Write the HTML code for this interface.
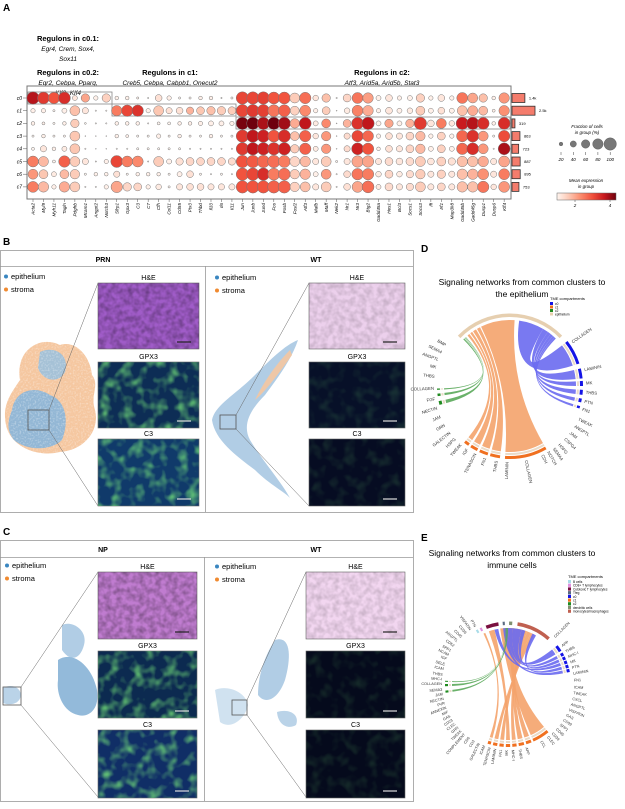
<!DOCTYPE html>
<html><head><meta charset="utf-8">
<style>
html,body{margin:0;padding:0;background:#fff;}
body{width:625px;height:804px;overflow:hidden;font-family:"Liberation Sans",sans-serif;}
svg text{font-family:"Liberation Sans",sans-serif;}
</style></head>
<body>
<svg id="fig" width="625" height="804" viewBox="0 0 625 804" xmlns="http://www.w3.org/2000/svg">
<defs>
  <filter id="tex" x="0" y="0" width="100%" height="100%">
    <feTurbulence type="fractalNoise" baseFrequency="0.18" numOctaves="2" seed="3"/>
    <feColorMatrix type="matrix" values="0 0 0 0 0  0 0 0 0 0  0 0 0 0 0  0 0 0 -1.6 1.1"/>
  </filter>
  <filter id="texg" x="0" y="0" width="100%" height="100%">
    <feTurbulence type="fractalNoise" baseFrequency="0.09" numOctaves="2" seed="7"/>
    <feColorMatrix type="matrix" values="0 0 0 0 0.2  0 0 0 0 0.85  0 0 0 0 0.2  0 0 0 2.2 -1.0"/>
  </filter>
  <filter id="dots" x="0" y="0" width="100%" height="100%">
    <feTurbulence type="fractalNoise" baseFrequency="0.6" numOctaves="1" seed="5"/>
    <feColorMatrix type="matrix" values="0 0 0 0 1  0 0 0 0 1  0 0 0 0 1  0 0 0 -3 1.6"/>
  </filter>
</defs>

<text x="3" y="11" font-size="10" font-weight="bold">A</text>
<g font-size="7.5" text-anchor="middle">
  <text x="68" y="41" font-weight="bold">Regulons in c0.1:</text>
  <text x="68" y="51" font-style="italic" font-size="6.5">Egr4, Crem, Sox4,</text>
  <text x="68" y="61" font-style="italic" font-size="6.5">Sox11</text>
  <text x="68" y="75" font-weight="bold">Regulons in c0.2:</text>
  <text x="68" y="85" font-style="italic" font-size="6.5">Egr2, Cebpa, Pparg,</text>
  <text x="68" y="95" font-style="italic" font-size="6.5">Klf2, Klf4</text>
  <text x="170" y="75" font-weight="bold">Regulons in c1:</text>
  <text x="170" y="85" font-style="italic" font-size="6.5">Creb5, Cebpa, Cabpb1, Onecut2</text>
  <text x="382" y="75" font-weight="bold">Regulons in c2:</text>
  <text x="382" y="85" font-style="italic" font-size="6.5">Atf3, Arid5a, Arid5b, Stat3</text>
</g>
<g id="dotplot"></g>

<text x="3" y="245" font-size="10" font-weight="bold">B</text>
<g>
  <rect x="0.5" y="250.5" width="413" height="262" fill="none" stroke="#999" stroke-width="0.8"/>
  <line x1="0" y1="266.5" x2="413" y2="266.5" stroke="#999" stroke-width="0.8"/>
  <line x1="205.5" y1="266" x2="205.5" y2="512" stroke="#999" stroke-width="0.8"/>
  <text x="103" y="262" font-size="7" font-weight="bold" text-anchor="middle">PRN</text>
  <text x="316" y="262" font-size="7" font-weight="bold" text-anchor="middle">WT</text>
</g>
<g id="panelB"></g>

<text x="3" y="535" font-size="10" font-weight="bold">C</text>
<g>
  <rect x="0.5" y="540.5" width="413" height="261" fill="none" stroke="#999" stroke-width="0.8"/>
  <line x1="0" y1="557.5" x2="413" y2="557.5" stroke="#999" stroke-width="0.8"/>
  <line x1="204.5" y1="557" x2="204.5" y2="801" stroke="#999" stroke-width="0.8"/>
  <text x="103" y="552" font-size="7" font-weight="bold" text-anchor="middle">NP</text>
  <text x="316" y="552" font-size="7" font-weight="bold" text-anchor="middle">WT</text>
</g>
<g id="panelC"></g>

<text x="421" y="252" font-size="10" font-weight="bold">D</text>
<g font-size="8.5" text-anchor="middle">
  <text x="522" y="285">Signaling networks from common clusters to</text>
  <text x="522" y="297">the epithelium</text>
</g>
<g id="chordD"></g>

<text x="421" y="541" font-size="10" font-weight="bold">E</text>
<g font-size="8.5" text-anchor="middle">
  <text x="512" y="556">Signaling networks from common clusters to</text>
  <text x="512" y="568">immune cells</text>
</g>
<g id="chordE"></g>
</svg>

<script>
const NS = "http://www.w3.org/2000/svg";
const genes = ["Acta2","Myl9","Myh11","Tagln","Pdgfrb","Mcam1","Angpt2","Notch3","Sfrp1","Gpx3","C3","C7","Cfh","Col11","Cd55","Ptx3","Thbd","Il33","Il6","Il11","Jun","Junb","Jund","Fos","Fosb","Fosl2","Atf3","Mafb","Maff","Nek2","Nr1","Nr3","Btg2","Gadd45a","Hes1","Bcl3","Socs1","Socs3","Ifi","Irf1","Map3k8","Gadd45b","Gadd45g","Dusp1","Dusp6","Klf4"];
const clusters = ["c0","c1","c2","c3","c4","c5","c6","c7"];
const cellCounts = [1400,2500,319,863,723,887,895,753];
const countLabels = ["1.4k","2.5k","319","863","723","887","895","753"];
const frac_c0 = [100,95,90,95,30,60,25,60,20,20,10,5,45,25,10,10,20,20,5,10,100,100,100,95,95,75,90,35,60,5,55,85,80,30,45,25,30,60,25,45,25,85,75,60,20,80];
const expr_c0 = [3.9,3.2,2.8,3.4,0.5,1.6,0.3,0.9,0.3,0.3,0.3,0.2,0.6,0.3,0.2,0.2,0.3,0.3,0.2,0.2,3.0,3.0,3.1,2.8,2.8,1.0,2.4,0.5,1.2,0.2,0.8,2.3,1.7,0.3,0.5,0.3,0.3,0.9,0.3,0.5,0.3,2.3,1.6,1.2,0.3,1.8];
const frac_c1 = [25,25,10,30,75,40,5,5,80,90,90,25,75,40,45,50,55,60,60,55,100,100,100,95,95,65,85,25,55,3,35,85,80,25,45,30,35,65,30,45,30,75,75,65,15,80];
const expr_c1 = [0.3,0.3,0.2,0.3,1.2,0.5,0.2,0.2,2.2,3.0,3.3,0.3,1.1,0.6,0.6,1.4,1.1,1.2,1.0,1.0,3.0,3.2,3.1,2.3,2.6,0.9,2.0,0.3,1.0,0.2,0.4,2.1,1.5,0.3,0.5,0.3,0.4,1.0,0.3,0.6,0.3,1.2,1.5,1.3,0.3,1.9];
const frac_c2 = [20,15,10,20,60,8,5,5,20,20,20,5,15,15,20,20,25,30,30,25,100,100,100,100,100,70,95,30,65,3,55,95,100,30,60,30,60,100,45,75,35,100,100,95,20,95];
const expr_c2 = [0.3,0.3,0.2,0.3,1.0,0.2,0.2,0.2,0.3,0.3,0.3,0.2,0.2,0.2,0.3,0.3,0.3,0.3,0.3,0.3,4.5,4.7,4.0,4.6,4.1,1.5,3.8,0.4,2.0,0.2,1.4,3.3,3.8,0.3,1.6,0.3,1.4,3.2,0.5,2.2,0.5,3.7,3.9,3.4,0.3,3.4];
const frac_c3 = [10,20,10,10,75,3,3,3,20,15,10,10,25,10,20,10,10,20,10,10,100,100,100,95,100,65,90,35,70,3,40,90,85,25,45,40,55,70,25,55,25,90,95,75,10,90];
const expr_c3 = [0.2,0.3,0.2,0.2,1.1,0.2,0.2,0.2,0.3,0.3,0.2,0.2,0.3,0.2,0.3,0.2,0.2,0.3,0.2,0.2,3.2,3.8,3.6,2.8,3.4,1.2,2.6,0.5,1.8,0.2,0.7,3.0,2.5,0.3,0.6,0.5,0.8,1.3,0.3,0.9,0.3,2.5,3.3,1.8,0.2,2.9];
const frac_c4 = [15,40,20,30,75,5,3,3,5,5,10,10,10,10,10,5,5,5,5,5,100,100,100,100,100,60,90,30,70,3,40,95,90,20,45,40,55,70,30,55,30,90,95,75,5,95];
const expr_c4 = [0.2,0.5,0.3,0.4,1.1,0.2,0.2,0.2,0.2,0.2,0.2,0.2,0.2,0.2,0.2,0.2,0.2,0.2,0.2,0.2,3.2,3.8,3.6,3.3,3.6,1.0,2.6,0.4,1.8,0.2,0.7,3.6,2.8,0.3,0.6,0.5,0.8,1.3,0.3,0.9,0.3,2.5,3.4,1.8,0.2,4.0];
const frac_c5 = [85,75,15,90,75,40,5,25,95,85,85,5,75,30,50,55,55,55,55,50,100,100,100,100,95,75,80,40,75,10,40,90,90,40,55,45,55,75,45,65,50,80,80,80,40,85];
const expr_c5 = [2.2,1.3,0.2,2.6,1.0,0.5,0.2,0.3,3.0,2.2,2.0,0.2,1.0,0.3,0.6,0.8,0.8,0.8,0.8,0.7,2.8,2.7,2.5,2.4,2.2,0.8,1.3,0.5,1.0,0.2,0.5,1.6,1.6,0.5,0.7,0.5,0.7,1.0,0.5,0.9,0.6,1.2,1.2,1.5,0.5,1.6];
const frac_c6 = [75,65,30,65,70,10,20,20,40,10,20,20,20,10,30,45,10,5,10,5,100,100,100,95,95,70,80,30,75,5,45,90,90,35,55,35,50,70,40,60,40,80,80,85,40,85];
const expr_c6 = [1.8,1.1,0.4,1.3,1.0,0.2,0.3,0.3,0.6,0.2,0.3,0.3,0.3,0.2,0.3,0.6,0.2,0.2,0.2,0.2,2.8,3.0,3.4,2.2,2.4,1.0,1.4,0.3,1.8,0.2,0.7,2.3,2.2,0.4,0.8,0.4,0.7,1.0,0.5,0.9,0.5,1.2,1.4,1.9,0.5,2.2];
const frac_c7 = [85,80,25,80,75,5,5,25,90,60,55,25,35,10,40,45,45,40,40,40,100,100,100,100,100,70,75,40,75,5,45,85,95,30,55,40,50,75,40,55,40,80,80,90,35,85];
const expr_c7 = [2.2,1.3,0.3,1.5,1.0,0.2,0.2,0.3,1.6,0.8,0.8,0.3,0.4,0.2,0.5,0.6,0.6,0.5,0.5,0.5,2.8,2.8,2.8,2.6,2.6,0.9,1.2,0.5,1.0,0.2,0.6,1.6,2.4,0.4,0.7,0.5,0.7,1.0,0.5,0.8,0.5,1.2,1.2,2.3,0.5,1.8];
const fractions = [frac_c0,frac_c1,frac_c2,frac_c3,frac_c4,frac_c5,frac_c6,frac_c7];
const expressions = [expr_c0,expr_c1,expr_c2,expr_c3,expr_c4,expr_c5,expr_c6,expr_c7];
const sizeLegendValues = [20,40,60,80,100];
const colorTicks = [2,4];

function mk(tag, attrs, parent){ const e=document.createElementNS(NS,tag); for(const k in attrs) e.setAttribute(k,attrs[k]); if(parent) parent.appendChild(e); return e; }

const xCol = i => 33 + i*10.47;
const yRow = j => 98 + j*12.7;
const rSize = f => 6.2*Math.pow(f/100,0.75);
const barLen = n => n*0.0092;
const reds = [[255,245,240],[252,200,180],[251,140,110],[240,80,60],[200,25,30],[110,0,13]];
function redColor(v){
  let t=(v-0.2)/4.4; t=Math.max(0,Math.min(1,t));
  const p=t*(reds.length-1); const i=Math.min(reds.length-2,Math.floor(p)); const f=p-i;
  const c=reds[i].map((a,k)=>Math.round(a+(reds[i+1][k]-a)*f));
  return `rgb(${c[0]},${c[1]},${c[2]})`;
}

const dp = document.getElementById('dotplot');
mk('rect',{x:27,y:86,width:484,height:113,fill:'none',stroke:'#777','stroke-width':1},dp);
mk('rect',{x:28,y:92,width:84,height:12,fill:'none',stroke:'#888','stroke-width':0.8},dp);
mk('rect',{x:112,y:104,width:124,height:12,fill:'none',stroke:'#888','stroke-width':0.8},dp);
mk('rect',{x:236,y:117,width:274,height:12,fill:'none',stroke:'#888','stroke-width':0.8},dp);
clusters.forEach((c,j)=>{
  const t=mk('text',{x:22,y:yRow(j)+1.8,'font-size':5,'font-style':'italic','text-anchor':'end'},dp);
  t.textContent=c;
  
  
  mk('line',{x1:23,y1:yRow(j),x2:27,y2:yRow(j),stroke:'#555','stroke-width':0.5},dp);
  genes.forEach((g,i)=>{
    const f=fractions[j][i], e=expressions[j][i];
    const d=mk('circle',{cx:xCol(i),cy:yRow(j),r:rSize(f),fill:redColor(e),stroke:'#777','stroke-width':0.5},dp);
    
    
  });
  const b=mk('rect',{x:512,y:yRow(j)-4.5,width:barLen(cellCounts[j]),height:9,fill:'#f47c6c',stroke:'#333','stroke-width':0.8},dp);
  
  
  const bl=mk('text',{x:512+barLen(cellCounts[j])+4,y:yRow(j)+1.5,'font-size':4},dp);
  bl.textContent=countLabels[j];
  
  
});
genes.forEach((g,i)=>{
  mk('line',{x1:xCol(i),y1:199,x2:xCol(i),y2:202,stroke:'#555','stroke-width':0.5},dp);
  const t=mk('text',{x:0,y:0,'font-size':4.6,'font-style':'italic','text-anchor':'end',transform:`translate(${xCol(i)+1.6},203) rotate(-90)`},dp);
  t.textContent=g;
  
  
});
const lg=mk('g',{},dp);


let tl=mk('text',{x:587,y:128,'font-size':4.5,'font-style':'italic','text-anchor':'middle'},lg); tl.textContent='Fraction of cells';
tl=mk('text',{x:587,y:134,'font-size':4.5,'font-style':'italic','text-anchor':'middle'},lg); tl.textContent='in group (%)';
sizeLegendValues.forEach((v,k)=>{
  const x=561+k*12.3;
  mk('circle',{cx:x,cy:144,r:rSize(v),fill:'#777',stroke:'#555','stroke-width':0.4},lg);
  mk('line',{x1:x,y1:152,x2:x,y2:155,stroke:'#444','stroke-width':0.5},lg);
  const t=mk('text',{x:x,y:161,'font-size':4.5,'font-style':'italic','text-anchor':'middle'},lg); t.textContent=v;
});
tl=mk('text',{x:586,y:182,'font-size':4.5,'font-style':'italic','text-anchor':'middle'},lg); tl.textContent='Mean expression';
tl=mk('text',{x:586,y:188,'font-size':4.5,'font-style':'italic','text-anchor':'middle'},lg); tl.textContent='in group';
const defs=document.querySelector('defs');
const grad=mk('linearGradient',{id:'cbar',x1:0,y1:0,x2:1,y2:0},defs);
for(let k=0;k<=10;k++){ mk('stop',{offset:k/10,'stop-color':redColor(0.2+k*0.44)},grad); }
const cb=mk('rect',{x:557,y:193,width:59,height:7,fill:'url(#cbar)',stroke:'#666','stroke-width':0.5},lg);


colorTicks.forEach(v=>{
  const x=540+v*17.5;
  mk('line',{x1:x,y1:200,x2:x,y2:202,stroke:'#444','stroke-width':0.5},lg);
  const t=mk('text',{x:x,y:207,'font-size':4.5,'font-style':'italic','text-anchor':'middle'},lg); t.textContent=v;
});

function legendEpi(g,x,y){
  mk('circle',{cx:x,cy:y-2.5,r:2,fill:'#3a86c0'},g);
  let t=mk('text',{x:x+5,y:y,'font-size':7.5},g); t.textContent='epithelium';
  mk('circle',{cx:x,cy:y+10.5,r:2,fill:'#f08a30'},g);
  t=mk('text',{x:x+5,y:y+13,'font-size':7.5},g); t.textContent='stroma';
}
function micro(g,x,y,w,h,base,kind,name,label){
  const t=mk('text',{x:x+w/2,y:y-3,'font-size':7,'text-anchor':'middle'},g); t.textContent=label;
  const r=mk('rect',{x:x,y:y,width:w,height:h,fill:base,stroke:'#666','stroke-width':0.6},g);
  
  
  if(kind==='he'){ mk('rect',{x:x,y:y,width:w,height:h,filter:'url(#tex)',opacity:0.35},g); }
  else if(kind==='he-light'){ mk('rect',{x:x,y:y,width:w,height:h,filter:'url(#tex)',opacity:0.18},g); }
  else if(kind==='green'){ mk('rect',{x:x,y:y,width:w,height:h,filter:'url(#texg)',opacity:0.8},g); }
  else if(kind==='green-weak'){ mk('rect',{x:x,y:y,width:w,height:h,filter:'url(#texg)',opacity:0.15},g); }
  mk('line',{x1:x+w-22,y1:y+h-7,x2:x+w-8,y2:y+h-7,stroke:kind.startsWith('he')?'#222':'#ddd','stroke-width':1.2},g);
}
function zoomLines(g,sq,ix,iy0,iy1){
  mk('rect',{x:sq[0],y:sq[1],width:sq[2],height:sq[3],fill:'none',stroke:'#555','stroke-width':0.8},g);
  mk('line',{x1:sq[0]+sq[2],y1:sq[1],x2:ix,y2:iy0,stroke:'#666','stroke-width':0.5},g);
  mk('line',{x1:sq[0]+sq[2],y1:sq[1]+sq[3],x2:ix,y2:iy1,stroke:'#666','stroke-width':0.5},g);
}
function blob(g,d,fill,op){ mk('path',{d:d,fill:fill,opacity:op},g); }

const gB=document.getElementById('panelB');
legendEpi(gB,6,279); legendEpi(gB,217,280);
blob(gB,'M20,380 C15,350 40,335 60,345 C75,340 90,355 92,375 C100,385 90,395 95,410 C100,430 85,450 60,452 C35,458 10,445 6,425 C2,405 10,395 20,380Z','#f5c7a0',1);
blob(gB,'M12,410 C15,390 35,385 50,395 C65,400 70,420 62,440 C50,452 25,450 14,440 C6,430 8,420 12,410Z','#8db6d8',0.95);
blob(gB,'M40,352 C55,345 70,355 65,372 C58,385 42,380 38,368Z','#9cc0dc',0.9);
mk('rect',{x:4,y:340,width:95,height:116,filter:'url(#dots)',opacity:0.35},gB);
zoomLines(gB,[28,410,21,20],98,283,506);
micro(gB,98,283,101,66,'#a05cc8','he','he-image-prn','H&E');
micro(gB,98,362,101,66,'#0d2d55','green','gpx3-image-prn','GPX3');
micro(gB,98,439,101,67,'#103a6a','green','c3-image-prn','C3');
blob(gB,'M298,340 C285,345 270,360 255,375 C235,395 215,405 212,420 C215,440 235,455 255,470 C270,485 285,492 290,498 C280,480 262,460 250,440 C242,425 250,410 265,395 C280,375 292,358 298,340Z','#a9c8e2',0.9);
blob(gB,'M290,350 C275,365 262,385 255,400 C262,395 278,375 292,355Z','#f5c7a0',0.9);
zoomLines(gB,[220,415,16,14],309,283,506);
micro(gB,309,283,96,66,'#ecd0ec','he-light','he-image-wt-b','H&E');
micro(gB,309,362,96,66,'#071028','green-weak','gpx3-image-wt-b','GPX3');
micro(gB,309,439,96,67,'#060c22','green-weak','c3-image-wt-b','C3');

const gC=document.getElementById('panelC');
legendEpi(gC,7,568); legendEpi(gC,217,569);
blob(gC,'M62,625 C72,620 88,630 84,645 C80,660 70,662 62,650Z','#a9c8e2',0.9);
blob(gC,'M58,660 C72,650 92,665 97,690 C100,710 88,718 78,715 C64,712 56,695 58,680Z','#8db6d8',0.95);
blob(gC,'M3,688 C10,684 20,686 21,695 C20,704 10,706 3,703Z','#a9c8e2',0.8);
zoomLines(gC,[3,687,18,18],98,572,797);
micro(gC,98,572,99,67,'#c07cd0','he','he-image-np','H&E');
micro(gC,98,651,99,67,'#0c2a50','green','gpx3-image-np','GPX3');
micro(gC,98,730,99,68,'#102e66','green','c3-image-np','C3');
blob(gC,'M275,640 C290,635 292,655 285,680 C278,700 265,705 258,695 C258,675 265,655 275,640Z','#a9c8e2',0.9);
blob(gC,'M215,690 C225,685 245,690 248,705 C245,720 230,730 220,722Z','#c4dbec',0.8);
blob(gC,'M277,712 C290,708 300,715 296,725 C288,730 278,725 277,712Z','#a9c8e2',0.8);
zoomLines(gC,[232,700,15,15],306,572,797);
micro(gC,306,572,99,67,'#f2d6f0','he-light','he-image-wt-c','H&E');
micro(gC,306,651,99,67,'#050a1c','green-weak','gpx3-image-wt-c','GPX3');
micro(gC,306,730,99,68,'#050a1c','green-weak','c3-image-wt-c','C3');

function P(cx,cy,r,a){ const t=a*Math.PI/180; return [cx+r*Math.sin(t), cy-r*Math.cos(t)]; }
function arcPath(cx,cy,r1,r2,a0,a1){
  const p0=P(cx,cy,r2,a0),p1=P(cx,cy,r2,a1),p2=P(cx,cy,r1,a1),p3=P(cx,cy,r1,a0);
  const lg=(a1-a0)>180?1:0;
  return `M${p0}A${r2},${r2} 0 ${lg} 1 ${p1}L${p2}A${r1},${r1} 0 ${lg} 0 ${p3}Z`;
}
function ribbon(cx,cy,r,s0,s1,t0,t1){
  const a=P(cx,cy,r,s0),b=P(cx,cy,r,s1),c=P(cx,cy,r,t0),d=P(cx,cy,r,t1);
  return `M${a}A${r},${r} 0 0 1 ${b}Q${cx},${cy} ${c}A${r},${r} 0 0 1 ${d}Q${cx},${cy} ${a}Z`;
}
function label(g,cx,cy,r,a,txt,fs){
  const p=P(cx,cy,r,a); const rot=a-90; const right=(a%360+360)%360<180;
  const t=mk('text',{x:p[0],y:p[1],'font-size':fs,'text-anchor':right?'start':'end','dominant-baseline':'middle',transform:`rotate(${right?rot:rot+180} ${p[0]} ${p[1]})`,fill:'#333'},g);
  t.textContent=txt;
}
const colMap={c0:'#1414e6',c1:'#f07020',c2:'#1f8a1f',epi:'#e8d0b0'};
const ribbonColor={c0:'#6a6af0',c1:'#f4a36c',c2:'#5aa85a'};

const dSrcNames=["COLLAGEN","LAMININ","THBS","FN1","TENASCIN","COLLAGEN","LAMININ","MK","THBS","PTN","FN1","COLLAGEN","THBS","MK"];
const dSrcGroup=["c1","c1","c1","c1","c1","c0","c0","c0","c0","c0","c0","c2","c2","c2"];
const dSrcStart=[150,188,198,207,215,52,76,86,93,100,106,255,262,267];
const dSrcEnd=[184,196,205,213,219,72,84,90,97,103,108,258,264,268];
const dTgtStart=[-26,-30,-34,-37,-40,8,30,35,38,40.5,42.5,-45,-43.5,-42.5];
const dTgtEnd=[4,-27,-31,-35,-38,30,35,38,40.5,42.5,44,-44,-43,-42];
const dExtraLeft=["BMP","SEMA4","ANGPTL","MK","THBS","COLLAGEN","FGF","NECTIN","JAM","GRN","GALECTIN","HSPG","TWEAK","IGF","TENASCIN","FN1","THBS","LAMININ","COLLAGEN"];
const dExtraLeftAng=[302,296,290,284,277,268,260,253,246,239,232,226,220,214,207,199,190,182,168];
const dRightLabels=["COLLAGEN","LAMININ","MK","THBS","PTN","FN1","TWEAK","ANGPTL","JAM","CSPG4","HSPG","SEMA4","NOTCH","CDH"];
const dRightAng=[55,78,88,95,102,108,116,122,128,134,140,145,150,155];

function drawChord(id,cx,cy,r,srcNames,srcGroup,s0,s1,t0,t1,topArcs,lblL,angL,lblR,angR,fs){
  const g=document.getElementById(id);
  srcNames.forEach((n,i)=>{
    const rb=mk('path',{d:ribbon(cx,cy,r,s0[i],s1[i],t0[i],t1[i]),fill:ribbonColor[srcGroup[i]],opacity:0.9},g);
    
    
    mk('path',{d:arcPath(cx,cy,r+1,r+3,s0[i],s1[i]),fill:'#eadbc8'},g);
    mk('path',{d:arcPath(cx,cy,r+4,r+7,s0[i],s1[i]),fill:colMap[srcGroup[i]]},g);
  });
  topArcs.forEach(a=>{ mk('path',{d:arcPath(cx,cy,r+3,r+6.5,a[0],a[1]),fill:a[2]},g); });
  lblL.forEach((t,i)=>label(g,cx,cy,r+10,angL[i],t,fs));
  lblR.forEach((t,i)=>label(g,cx,cy,r+10,angR[i],t,fs));
}
drawChord('chordD',510,386,66,dSrcNames,dSrcGroup,dSrcStart,dSrcEnd,dTgtStart,dTgtEnd,[[-46,46,'#e6cfb0']],dExtraLeft,dExtraLeftAng,dRightLabels,dRightAng,4.3);

(function(){
  const g=document.getElementById('chordD');
  let t=mk('text',{x:550,y:300,'font-size':4},g); t.textContent='TME compartments';
  const items=[['c0','#1414e6'],['c1','#f07020'],['c2','#1f8a1f'],['epithelium','#e8d0b0']];
  items.forEach((it,k)=>{ mk('rect',{x:550,y:302+k*3.5,width:3,height:3,fill:it[1]},g); const tt=mk('text',{x:555,y:305+k*3.5,'font-size':3.2},g); tt.textContent=it[0]; });
})();

const eSrcNames=["COLLAGEN","APP","THBS","MHC-I","MK","FN1","LAMININ","TENASCIN","COLLAGEN","APP","THBS","MHC-I","MK","LAMININ","COLLAGEN","THBS","MHC-I"];
const eSrcGroup=["c1","c1","c1","c1","c1","c1","c1","c1","c0","c0","c0","c0","c0","c0","c2","c2","c2"];
const eSrcStart=[140,158,165,172,178,184,190,196,52,60,64,68,72,76,262,268,272];
const eSrcEnd=[156,163,170,176,182,188,194,199,58,63,67,71,75,79,264,270,273];
const eTgtStart=[-8,2,8,14,-20,20,24,-26,5,0,14,-14,26,-5,-2,-1,-3];
const eTgtEnd=[2,8,14,20,-14,24,28,-24,14,5,18,-10,30,0,-1,0,-2.5];
const eTopArcs=[[-31,-29,'#a8dce8'],[-27,-25,'#e090e0'],[-21,-9,'#7a1040'],[-5,-3,'#5a6a80'],[1,4,'#809070'],[9,42,'#c06050']];
const eLeftLabels=["PTN","VISFATIN","CD39","CD45","ANGPTL","CD52","SPP1","NCAM","IGF","SELE","ICAM","THBS","MHC-I","COLLAGEN","SEMA3","JAM","NECTIN","PVR","ANNEXIN","MIF","GAS","CD23","CLEC","GRN","TWEAK","COMPLEMENT","CD6","CD3","GALECTIN","ICAM","TENASCIN","LAMININ","FN1","MK","MHC-I","THBS","APP"];
const eLeftAng=[330,325,320,315,310,305,300,296,292,287,283,278,274,270,265,261,257,253,249,245,241,237,233,229,225,221,216,211,206,201,196,191,186,181,176,170,164];
const eRightLabels=["COLLAGEN","APP","THBS","MHC-I","MK","PTN","LAMININ","FN1","ICAM","TWEAK","CXCL","ANGPTL","VISFATIN","GAS","CD99","SPP1","CD45","CD39","CLEC","CCL"];
const eRightAng=[45,55,61,66,71,76,81,87,93,98,103,108,113,118,123,128,133,138,143,150];
drawChord('chordE',508,684,56,eSrcNames,eSrcGroup,eSrcStart,eSrcEnd,eTgtStart,eTgtEnd,eTopArcs,eLeftLabels,eLeftAng,eRightLabels,eRightAng,3.8);
(function(){
  const g=document.getElementById('chordE');
  let t=mk('text',{x:568,y:578,'font-size':4},g); t.textContent='TME compartments';
  const items=[['B cells','#a8dce8'],['CD8+ T lymphocytes','#e090e0'],['Cytotoxic T lymphocytes','#7a1040'],['Treg','#5a6a80'],['c0','#1414e6'],['c1','#f07020'],['c2','#1f8a1f'],['dendritic cells','#809070'],['monocytes/macrophages','#c06050']];
  items.forEach((it,k)=>{ mk('rect',{x:568,y:580+k*3.7,width:3,height:3.2,fill:it[1]},g); const tt=mk('text',{x:573,y:583+k*3.7,'font-size':3.2},g); tt.textContent=it[0]; });
})();
</script>
</body></html>
